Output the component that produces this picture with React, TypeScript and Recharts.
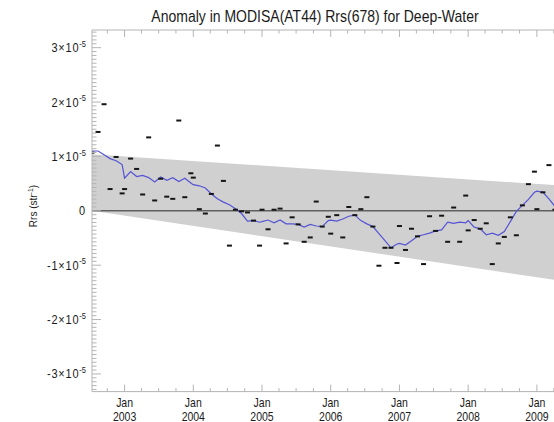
import React from "react";
import {
  Area,
  ComposedChart,
  Line,
  ReferenceLine,
  Scatter,
  XAxis,
  YAxis,
} from "recharts";

// 32-day composites: day-of-year on which each period starts
const periodStartDays = [1, 33, 65, 97, 129, 161, 193, 225, 257, 289, 321, 353];
const quarterStartDays = [1, 91, 182, 274];

const years = [2002, 2003, 2004, 2005, 2006, 2007, 2008, 2009];
// record starts with period 7 of 2002 (day 193)
const firstPeriod2002 = 6;

// Rrs(678) anomaly per composite, in units of 1e-5 sr^-1
const anomaly2002 = [1.07, 1.45, 1.96, 0.4, 0.99, 0.32];
const anomaly2003 = [0.4, 0.96, 0.77, 0.3, 1.35, 0.19, 0.59, 0.26, 0.22, 1.66, 0.25, 0.69];
const anomaly2004 = [0.61, 0.03, -0.05, 0.31, 1.2, 0.55, -0.64, 0.02, -0.01, -0.03, -0.18, -0.64];
const anomaly2005 = [0.02, -0.34, 0.02, 0.04, -0.6, -0.12, -0.25, -0.57, -0.49, 0.17, -0.29, -0.11];
const anomaly2006 = [-0.42, -0.08, -0.49, 0.07, -0.08, 0.03, 0.25, -0.29, -1.01, -0.68, -0.68, -0.96];
const anomaly2007 = [-0.28, -0.72, -0.33, -0.47, -0.98, -0.1, -0.37, -0.09, -0.57, 0.06, -0.57, 0.28];
const anomaly2008 = [-0.36, -0.17, -0.33, -0.23, -0.98, -0.6, -0.48, -0.12, -0.45, 0.1, 0.49, 0.72];
const anomaly2009 = [0.03, 0.34, 0.84, 0.02];

// running mean (blue line), same units
const mean2002 = [1.1, 1.1, 1.03, 0.96, 0.92, 0.85];
const mean2003 = [0.6, 0.72, 0.63, 0.65, 0.61, 0.53, 0.62, 0.56, 0.61, 0.54, 0.6, 0.51];
const mean2004 = [0.48, 0.46, 0.42, 0.31, 0.22, 0.16, 0.11, 0.04, -0.05, -0.19, -0.18, -0.21];
const mean2005 = [-0.2, -0.17, -0.22, -0.17, -0.24, -0.24, -0.25, -0.3, -0.25, -0.28, -0.29, -0.18];
const mean2006 = [-0.17, -0.19, -0.15, -0.1, -0.08, -0.18, -0.24, -0.29, -0.42, -0.55, -0.68, -0.61];
const mean2007 = [-0.6, -0.63, -0.55, -0.47, -0.44, -0.41, -0.37, -0.35, -0.21, -0.23, -0.21, -0.22];
const mean2008 = [-0.18, -0.3, -0.33, -0.44, -0.41, -0.45, -0.38, -0.2, -0.01, 0.1, 0.21, 0.34];
const mean2009 = [0.36, 0.34, 0.22, 0.08];

// grey envelope, straight edges between its two ends
const bandDates = [2002.526, 2010.0];
const bandUpper = [1.04, 0.41];
const bandLower = [0.0, -1.41];

const yMajorTicks = [-3, -2, -1, 0, 1, 2, 3];
const yMinorPerMajor = 14;

const X_DOMAIN = [2002.526, 2010.0];
const Y_DOMAIN = [-3.325, 3.325];
const PLOT_TOP = 30;
const AXIS = "#b4b4b4";
const INK = "#1a1a1a";
const FONT = "'Liberation Sans', Arial, Helvetica, sans-serif";

function toRows(byYear: number[][]) {
  const rows: { t: number; v: number }[] = [];
  years.forEach((year, i) => {
    const start = i === 0 ? firstPeriod2002 : 0;
    byYear[i].forEach((v, j) => {
      rows.push({ t: year + (periodStartDays[start + j] - 1) / 365, v });
    });
  });
  return rows;
}

const pointRows = toRows([
  anomaly2002, anomaly2003, anomaly2004, anomaly2005,
  anomaly2006, anomaly2007, anomaly2008, anomaly2009,
]);
const meanRows = toRows([
  mean2002, mean2003, mean2004, mean2005,
  mean2006, mean2007, mean2008, mean2009,
]);
const bandRows = bandDates.map((t, i) => ({ t, range: [bandLower[i], bandUpper[i]] }));

const xTicks: number[] = [];
years.forEach((year) => {
  quarterStartDays.forEach((d) => {
    const t = year + (d - 1) / 365;
    if (t >= X_DOMAIN[0] && t <= X_DOMAIN[1]) xTicks.push(t);
  });
});

// major ticks plus the minor ticks between and beyond them
const yTicks: number[] = [...yMajorTicks];
for (let i = Math.ceil(Y_DOMAIN[0] * yMinorPerMajor); i <= Math.floor(Y_DOMAIN[1] * yMinorPerMajor); i++) {
  if (i % yMinorPerMajor !== 0) yTicks.push(i / yMinorPerMajor);
}
yTicks.sort((a, b) => a - b);

const isMajor = (v: number) => Math.abs(v - Math.round(v)) < 1e-6;

function StretchText({ x, y, anchor, size = 10.5, spacing, children }: any) {
  return (
    <text
      transform={`translate(${x},${y}) scale(1,1.2)`}
      textAnchor={anchor}
      fontSize={size}
      fontFamily={FONT}
      fill={INK}
      letterSpacing={spacing}
    >
      {children}
    </text>
  );
}

function XTick({ x, y, payload }: any) {
  const v = payload.value;
  const major = isMajor(v);
  const len = major ? 7 : 3.5;
  return (
    <g>
      <line x1={x} x2={x} y1={y} y2={y - len} stroke={AXIS} />
      <line x1={x} x2={x} y1={PLOT_TOP} y2={PLOT_TOP + len} stroke={AXIS} />
      {major && (
        <>
          <StretchText x={x} y={y + 15.5} anchor="middle">Jan</StretchText>
          <StretchText x={x} y={y + 29} anchor="middle">{Math.round(v)}</StretchText>
        </>
      )}
    </g>
  );
}

function YTick({ x, y, payload }: any) {
  const v = payload.value;
  const major = isMajor(v);
  const len = major ? 9 : 4.5;
  const n = Math.round(v);
  return (
    <g>
      <line x1={x} x2={x + len} y1={y} y2={y} stroke={AXIS} />
      {major && (
        <StretchText x={x - 6} y={y + 4.5} anchor="end" size={11} spacing={0.8}>
          {n === 0 ? (
            "0"
          ) : (
            <>
              {`${n}×10`}
              <tspan dy={-4.5} fontSize={7.5} letterSpacing={0}>-5</tspan>
            </>
          )}
        </StretchText>
      )}
    </g>
  );
}

function Dash({ cx, cy }: any) {
  if (cx == null || cy == null) return null;
  return <rect x={cx - 2.5} y={cy - 1} width={5} height={2} fill="#151515" />;
}

export default function App() {
  return (
    <div
      style={{
        position: "fixed",
        left: 0,
        top: 0,
        width: 554,
        height: 422,
        overflow: "hidden",
        background: "#fff",
      }}
    >
      <ComposedChart
        width={620}
        height={422}
        data={bandRows}
        margin={{ top: PLOT_TOP, right: 14.4, bottom: 0, left: 0 }}
      >
        <XAxis
          dataKey="t"
          type="number"
          domain={X_DOMAIN}
          ticks={xTicks}
          interval={0}
          tick={<XTick />}
          tickLine={false}
          tickSize={0}
          tickMargin={0}
          height={30.4}
          axisLine={{ stroke: AXIS }}
          allowDataOverflow
        />
        <YAxis
          type="number"
          domain={Y_DOMAIN}
          ticks={yTicks}
          interval={0}
          tick={<YTick />}
          tickLine={false}
          tickSize={0}
          tickMargin={0}
          width={92}
          axisLine={{ stroke: AXIS }}
          allowDataOverflow
        />
        <Area
          dataKey="range"
          type="linear"
          fill="#d0d0d0"
          fillOpacity={1}
          stroke="none"
          isAnimationActive={false}
        />
        <ReferenceLine y={Y_DOMAIN[1]} stroke={AXIS} />
        <ReferenceLine y={0} stroke="#606060" strokeWidth={1.6} />
        <Scatter data={pointRows} dataKey="v" shape={<Dash />} isAnimationActive={false} />
        <Line
          data={meanRows}
          dataKey="v"
          type="linear"
          stroke="#5454d4"
          strokeWidth={1.2}
          dot={false}
          isAnimationActive={false}
        />
      </ComposedChart>
      <svg
        width={554}
        height={422}
        style={{ position: "absolute", left: 0, top: 0, pointerEvents: "none" }}
      >
        <StretchText x={315} y={22} anchor="middle" size={14}>
          Anomaly in MODISA(AT44) Rrs(678) for Deep-Water
        </StretchText>
        <text
          transform="translate(37,206) rotate(-90)"
          textAnchor="middle"
          fontSize={10}
          fontFamily={FONT}
          fill={INK}
        >
          Rrs (str<tspan dy={-4} fontSize={7}>-1</tspan>
          <tspan dy={4}>)</tspan>
        </text>
      </svg>
    </div>
  );
}
